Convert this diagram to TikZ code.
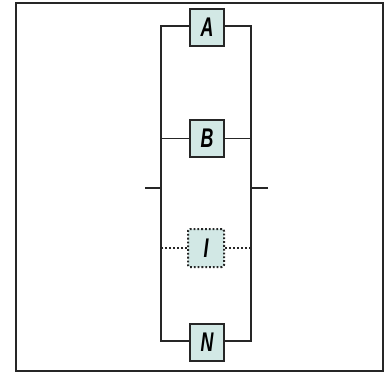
\documentclass[tikz,border=0pt]{standalone}
\usepackage{fontspec}
\setmainfont{Liberation Sans}
\definecolor{unitfill}{HTML}{D2E8E5}
\begin{document}
\begin{tikzpicture}[x=1pt,y=-1pt,
  line/.style={line width=1.9pt,draw=black!85},
  unit/.style={draw=black!85,line width=1.8pt,fill=unitfill,minimum width=34pt,minimum height=37pt,inner sep=0pt,
    font=\fontsize{27}{27}\selectfont\bfseries\itshape},
  dotunit/.style={unit,dotted,line width=2pt,rounded corners=2pt,minimum width=36pt,minimum height=38pt},
  dotline/.style={line width=2pt,draw=black!85,dotted}]
\useasboundingbox (0,0) rectangle (390,374);
\draw[line width=2pt,draw=black!85] (16,3) rectangle (383,371);
% components in parallel
\node[unit] (A) at (207,27.5) {\scalebox{0.66}[1]{A}};
\node[unit] (B) at (207,138.5) {\scalebox{0.66}[1]{B}};
\node[dotunit] (I) at (206,248) {\scalebox{0.66}[1]{I}};
\node[unit] (N) at (207,342.5) {\scalebox{0.66}[1]{N}};
% buses
\coordinate (LT) at (161,26);
\coordinate (LB) at (161,341);
\coordinate (RT) at (251,26);
\coordinate (RB) at (251,341);
\coordinate (LS) at (145,188);
\coordinate (RS) at (268,188);
\draw[line] (A.west |- LT) -- (LT) -- (LB) -- (N.west |- LB);
\draw[line] (A.east |- RT) -- (RT) -- (RB) -- (N.east |- RB);
\draw[line] (B.west) -- (B.west -| LT);
\draw[line] (B.east) -- (B.east -| RT);
\draw[line] (LS) -- (LS -| LT);
\draw[line] (RS) -- (RS -| RT);
\draw[dotline] (I.west) -- (I.west -| LT);
\draw[dotline] (I.east) -- (I.east -| RT);
\end{tikzpicture}
\end{document}
